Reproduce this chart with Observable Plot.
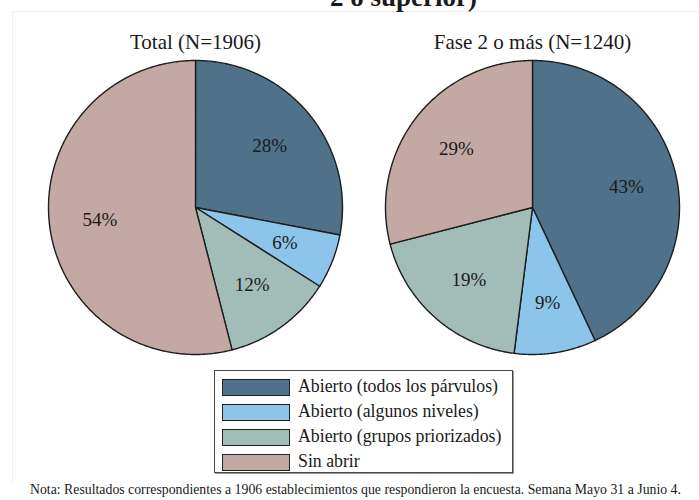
<!DOCTYPE html>
<html>
<head>
<meta charset="utf-8">
<script src="https://cdn.jsdelivr.net/npm/d3@7"></script>
<script src="https://cdn.jsdelivr.net/npm/@observablehq/plot@0.6"></script>
<style>
  html, body { margin: 0; padding: 0; background: #fff; }
  #wrap { position: relative; width: 699px; height: 500px; overflow: hidden; font-family: 'Liberation Serif', 'Times New Roman', serif; color: #1a1a1a; }
  #frame { position: absolute; left: 12px; top: 11px; width: 690px; height: 470px; border-top: 1px solid #f0f0f0; border-left: 1px solid #f0f0f0; }
  #title { position: absolute; left: 330px; top: -16px; font-size: 27px; line-height: 27px; font-weight: bold; white-space: nowrap; }
  #chart { position: absolute; left: 0; top: 0; }
  #legend { position: absolute; left: 214px; top: 370px; width: 297px; height: 101px; border: 1px solid #444; box-shadow: 1px 1px 0 #999; background: #fff; }
  .row { position: absolute; left: 7px; height: 18px; display: flex; align-items: center; }
  .sw { width: 66px; height: 15px; border: 1.5px solid #222; box-sizing: content-box; }
  .lab { position: absolute; left: 76px; font-size: 17.8px; white-space: nowrap; top: -2px; }
  #note { position: absolute; left: 30px; top: 482px; font-size: 13.8px; white-space: nowrap; }
</style>
</head>
<body>
<div id="wrap">
  <div id="frame"></div>
  <div id="title">2 o superior)</div>
  <div id="chart"></div>
  <div id="legend"></div>
  <div id="note">Nota: Resultados correspondientes a 1906 establecimientos que respondieron la encuesta. Semana Mayo 31 a Junio 4.</div>
</div>
<script>
const categories = ["Abierto (todos los párvulos)", "Abierto (algunos niveles)", "Abierto (grupos priorizados)", "Sin abrir"];
const groups = ["Total (N=1906)", "Fase 2 o más (N=1240)"];
const totalValues = [28, 6, 12, 54];
const fase2Values = [43, 9, 19, 29];
const colors = ["#4f7189", "#8dc4ea", "#a2bdb8", "#c4a8a3"];

const seriesByGroup = [totalValues, fase2Values];

const slices = [];
const labels = [];
const pie = d3.pie().sort(null).value(d => d.value);
groups.forEach((g, gi) => {
  const rows = categories.map((c, i) => ({category: c, value: seriesByGroup[gi][i]}));
  pie(rows).forEach(arc => {
    const key = g + "|" + arc.data.category;
    slices.push({group: g, category: arc.data.category, key, x: 0, y: 0});
    const n = Math.max(2, Math.ceil((arc.endAngle - arc.startAngle) / 0.01));
    for (let k = 0; k <= n; k++) {
      const a = arc.startAngle + (arc.endAngle - arc.startAngle) * k / n;
      slices.push({group: g, category: arc.data.category, key, x: Math.sin(a), y: Math.cos(a)});
    }
    slices.push({group: g, category: arc.data.category, key, x: 0, y: 0});
    const mid = (arc.startAngle + arc.endAngle) / 2;
    labels.push({group: g, text: arc.data.value + "%", x: 0.655 * Math.sin(mid), y: 0.655 * Math.cos(mid)});
  });
});

const chart = Plot.plot({
  width: 699,
  height: 362,
  marginTop: 60,
  marginBottom: 8,
  marginLeft: 48,
  marginRight: 20,
  style: {fontFamily: "'Liberation Serif', 'Times New Roman', serif", background: "transparent", color: "#1a1a1a"},
  x: {domain: [-1, 1], axis: null},
  y: {domain: [-1, 1], axis: null},
  fx: {domain: groups, paddingInner: 43 / 337, paddingOuter: 0, axis: null},
  color: {domain: categories, range: colors},
  marks: [
    Plot.line(slices, {fx: "group", x: "x", y: "y", z: "key", fill: "category", stroke: "#1e1e1e", strokeWidth: 1.4, strokeLinejoin: "round", curve: "linear"}),
    Plot.text(labels, {fx: "group", x: "x", y: "y", text: "text", fontSize: 19, fill: "#1a1a1a"}),
    Plot.text(groups, {fx: d => d, text: d => d, frameAnchor: "top", lineAnchor: "bottom", dy: -12, fontSize: 21, fill: "#1a1a1a"})
  ]
});
document.getElementById("chart").appendChild(chart);

const legend = document.getElementById("legend");
categories.forEach((c, i) => {
  const row = document.createElement("div");
  row.className = "row";
  row.style.top = (7 + i * 25) + "px";
  const sw = document.createElement("div");
  sw.className = "sw";
  sw.style.background = colors[i];
  const lab = document.createElement("div");
  lab.className = "lab";
  lab.textContent = c;
  row.appendChild(sw);
  row.appendChild(lab);
  legend.appendChild(row);
});
</script>
</body>
</html>
